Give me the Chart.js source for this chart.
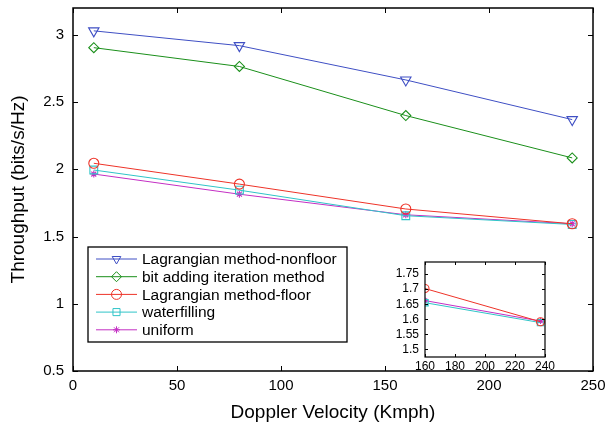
<!DOCTYPE html>
<html><head><meta charset="utf-8">
<script src="https://cdn.jsdelivr.net/npm/chart.js@4.4.0/dist/chart.umd.min.js"></script>
<style>
html,body{margin:0;padding:0;background:#fff;}
#wrap{position:relative;width:611px;height:431px;}
#main{position:absolute;left:0;top:0;}
#inset{position:absolute;left:380px;top:255px;}
</style></head><body>
<div id="wrap"><canvas id="main" width="611" height="431"></canvas><canvas id="inset" width="180" height="125"></canvas></div>
<script>
// ---------- data ----------
const velocity = [10, 80, 160, 240];
const lagNonfloor = [3.03, 2.92, 2.665, 2.37];
const bitAdding = [2.905, 2.765, 2.40, 2.085];
const lagFloor = [2.045, 1.89, 1.705, 1.595];
const waterfilling = [1.995, 1.845, 1.655, 1.59];
const uniform = [1.965, 1.815, 1.662, 1.595];

const insetVelocity = [160, 237];
const insetLagFloor = [1.702, 1.592];
const insetWaterfilling = [1.655, 1.589];
const insetUniform = [1.662, 1.594];

const seriesNames = ['Lagrangian method-nonfloor', 'bit adding iteration method', 'Lagrangian method-floor', 'waterfilling', 'uniform'];
const xTickLabels = ['0', '50', '100', '150', '200', '250'];
const yTickLabels = ['0.5', '1', '1.5', '2', '2.5', '3'];
const insetXTickLabels = ['160', '180', '200', '220', '240'];
const insetYTickLabels = ['1.5', '1.55', '1.6', '1.65', '1.7', '1.75'];

// ---------- styles ----------
const FONT = "'Liberation Sans', Arial, Helvetica, sans-serif";
const styles = [
  {color: '#3f4fc4', pointStyle: 'triangle', rotation: 180, radius: 6},
  {color: '#1a8f1a', pointStyle: 'rectRot', rotation: 0, radius: 5},
  {color: '#ee3328', pointStyle: 'circle', rotation: 0, radius: 5},
  {color: '#2fc4c8', pointStyle: 'rect', rotation: 0, radius: 5.5},
  {color: '#c42fc4', pointStyle: 'star', rotation: 0, radius: 3.5}
];
const insetStyles = [
  {color: '#ee3328', pointStyle: 'circle', rotation: 0, radius: 4},
  {color: '#2fc4c8', pointStyle: 'rect', rotation: 0, radius: 4.5},
  {color: '#c42fc4', pointStyle: 'star', rotation: 0, radius: 3}
];

function pairs(xs, ys) { return xs.map((x, i) => ({x: x, y: ys[i]})); }
function makeDataset(label, xs, ys, st) {
  return {
    label: label, data: pairs(xs, ys),
    borderColor: st.color, borderWidth: 1, fill: false, tension: 0,
    pointStyle: st.pointStyle, pointRotation: st.rotation, pointRadius: st.radius,
    pointHoverRadius: st.radius, pointBorderColor: st.color, pointBorderWidth: 1.1,
    pointBackgroundColor: 'rgba(0,0,0,0)'
  };
}
function noPad(s) { s.paddingTop = 0; s.paddingBottom = 0; s.paddingLeft = 0; s.paddingRight = 0; }

const mainSeries = [lagNonfloor, bitAdding, lagFloor, waterfilling, uniform];

function framePlugin(tickLen, lw, legend) {
  return {
    id: 'frame',
    beforeDraw(chart) {
      if (!legend) {
        const a = chart.chartArea, ctx = chart.ctx;
        ctx.save(); ctx.fillStyle = '#fff';
        ctx.fillRect(a.left, a.top, a.right - a.left, a.bottom - a.top);
        ctx.restore();
      }
    },
    afterDraw(chart) {
      const {ctx, chartArea: a, scales: {x, y}} = chart;
      ctx.save();
      ctx.strokeStyle = '#000';
      ctx.lineWidth = 1;
      ctx.beginPath();
      x.ticks.forEach(t => {
        const px = Math.round(x.getPixelForValue(t.value)) + 0.5;
        ctx.moveTo(px, a.bottom); ctx.lineTo(px, a.bottom - tickLen);
        ctx.moveTo(px, a.top); ctx.lineTo(px, a.top + tickLen);
      });
      y.ticks.forEach(t => {
        const py = Math.round(y.getPixelForValue(t.value)) + 0.5;
        ctx.moveTo(a.left, py); ctx.lineTo(a.left + tickLen, py);
        ctx.moveTo(a.right, py); ctx.lineTo(a.right - tickLen, py);
      });
      ctx.stroke();
      ctx.lineWidth = lw;
      ctx.strokeRect(a.left, a.top, a.right - a.left, a.bottom - a.top);

      if (legend) {
        const lx = a.left + 15, ly = a.top + 239, lwid = 259, lh = 95;
        ctx.fillStyle = '#fff';
        ctx.fillRect(lx, ly, lwid, lh);
        ctx.lineWidth = 1.3;
        ctx.strokeRect(lx, ly, lwid, lh);
        ctx.font = '15.5px ' + FONT;
        ctx.textBaseline = 'middle';
        seriesNames.forEach((name, i) => {
          const st = styles[i];
          const cy = ly + 12 + i * 17.7;
          ctx.strokeStyle = st.color; ctx.lineWidth = 1;
          ctx.beginPath(); ctx.moveTo(lx + 8, cy); ctx.lineTo(lx + 49, cy); ctx.stroke();
          ctx.fillStyle = 'rgba(0,0,0,0)';
          Chart.helpers.drawPoint(ctx, {pointStyle: st.pointStyle, rotation: st.rotation, radius: Math.min(st.radius, 5), borderWidth: 1}, lx + 28.5, cy);
          ctx.fillStyle = '#000';
          ctx.fillText(name, lx + 54, cy + 1);
        });
      }
      ctx.restore();
    }
  };
}

new Chart(document.getElementById('main'), {
  type: 'line',
  data: {datasets: mainSeries.map((s, i) => makeDataset(seriesNames[i], velocity, s, styles[i]))},
  options: {
    responsive: false, animation: false, devicePixelRatio: 1,
    layout: {padding: {top: 8, right: 18, left: 0, bottom: 0}},
    plugins: {legend: {display: false}, tooltip: {enabled: false}},
    scales: {
      x: {
        type: 'linear', min: 0, max: 250,
        grid: {display: false, drawTicks: false}, border: {display: false},
        afterBuildTicks: s => { s.ticks = xTickLabels.map(v => ({value: parseFloat(v)})); },
        afterFit: s => { s.height = 60; noPad(s); },
        ticks: {callback: (v, i) => xTickLabels[i], padding: 6, autoSkip: false, maxRotation: 0,
                color: '#000', font: {size: 15, family: FONT}},
        title: {display: true, text: 'Doppler Velocity (Kmph)', color: '#000',
                font: {size: 19, family: FONT}, padding: {top: 0, bottom: 7}}
      },
      y: {
        type: 'linear', min: 0.5, max: 3.2,
        grid: {display: false, drawTicks: false}, border: {display: false},
        afterBuildTicks: s => { s.ticks = yTickLabels.map(v => ({value: parseFloat(v)})); },
        afterFit: s => { s.width = 73; noPad(s); },
        ticks: {callback: (v, i) => yTickLabels[i], padding: 9, autoSkip: false,
                color: '#000', font: {size: 15, family: FONT}},
        title: {display: true, text: 'Throughput (bits/s/Hz)', color: '#000',
                font: {size: 19, family: FONT}, padding: {top: 7, bottom: 0}}
      }
    }
  },
  plugins: [framePlugin(5, 1.5, true)]
});

const insetSeries = [insetLagFloor, insetWaterfilling, insetUniform];
const insetNames = [seriesNames[2], seriesNames[3], seriesNames[4]];
new Chart(document.getElementById('inset'), {
  type: 'line',
  data: {datasets: insetSeries.map((s, i) => makeDataset(insetNames[i], insetVelocity, s, insetStyles[i]))},
  options: {
    responsive: false, animation: false, devicePixelRatio: 1,
    layout: {padding: {top: 7, right: 15, left: 0, bottom: 0}},
    plugins: {legend: {display: false}, tooltip: {enabled: false}},
    scales: {
      x: {
        type: 'linear', min: 160, max: 240,
        grid: {display: false, drawTicks: false}, border: {display: false},
        afterBuildTicks: s => { s.ticks = insetXTickLabels.map(v => ({value: parseFloat(v)})); },
        afterFit: s => { s.height = 23; noPad(s); },
        ticks: {callback: (v, i) => insetXTickLabels[i], padding: 2, autoSkip: false, maxRotation: 0,
                color: '#000', font: {size: 12, family: FONT}}
      },
      y: {
        type: 'linear', min: 1.475, max: 1.79,
        grid: {display: false, drawTicks: false}, border: {display: false},
        afterBuildTicks: s => { s.ticks = insetYTickLabels.map(v => ({value: parseFloat(v)})); },
        afterFit: s => { s.width = 45; noPad(s); },
        ticks: {callback: (v, i) => insetYTickLabels[i], padding: 6, autoSkip: false,
                color: '#000', font: {size: 12, family: FONT}}
      }
    }
  },
  plugins: [framePlugin(3, 1.2, false)]
});
</script>
</body></html>
